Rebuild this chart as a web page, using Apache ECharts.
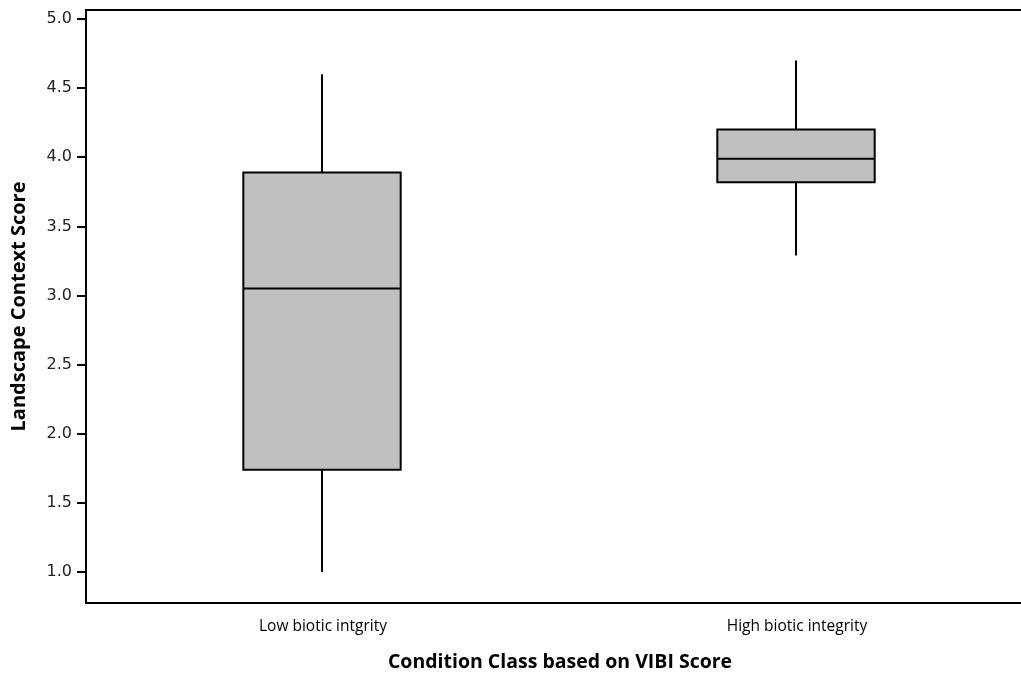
<!DOCTYPE html>
<html>
<head>
<meta charset="utf-8">
<script src="https://cdn.jsdelivr.net/npm/echarts@6/dist/echarts.min.js"></script>
<style>
  html, body { margin: 0; padding: 0; background: #fff; }
  #chart { width: 1021px; height: 675px; }
</style>
</head>
<body>
<div id="chart"></div>
<script>
// Condition classes on the horizontal axis
const categories = ['Low biotic intgrity', 'High biotic integrity'];
// Five-number summaries of landscape context score: [min, Q1, median, Q3, max]
const lowStats = [1.00, 1.74, 3.05, 3.89, 4.60];
const highStats = [3.29, 3.82, 3.99, 4.20, 4.70];
// Labelled y ticks
const yTicks = [1.0, 1.5, 2.0, 2.5, 3.0, 3.5, 4.0, 4.5, 5.0];

const boxData = [
  [0].concat(lowStats),
  [1].concat(highStats)
];

const chart = echarts.init(document.getElementById('chart'));

// Box without whisker caps: whisker stems, filled box and median line
function renderBox(params, api) {
  const idx = api.value(0);
  const lo = api.coord([idx, api.value(1)]);
  const q1 = api.coord([idx, api.value(2)]);
  const med = api.coord([idx, api.value(3)]);
  const q3 = api.coord([idx, api.value(4)]);
  const hi = api.coord([idx, api.value(5)]);
  const band = api.size([1, 0])[0];
  const half = band * 0.166;
  const x = lo[0] - 1;
  const stroke = { stroke: '#000', lineWidth: 2 };
  return {
    type: 'group',
    children: [
      { type: 'line', shape: { x1: x, y1: hi[1], x2: x, y2: q3[1] }, style: stroke },
      { type: 'line', shape: { x1: x, y1: q1[1], x2: x, y2: lo[1] }, style: stroke },
      { type: 'rect', shape: { x: x - half, y: q3[1], width: half * 2, height: q1[1] - q3[1] },
        style: { fill: '#c0c0c0', stroke: '#000', lineWidth: 2 } },
      { type: 'line', shape: { x1: x - half, y1: med[1], x2: x + half, y2: med[1] }, style: stroke }
    ]
  };
}

chart.setOption({
  backgroundColor: '#fff',
  animation: false,
  grid: {
    left: 86, top: 10, width: 948, height: 593,
    containLabel: false,
    outerBoundsMode: 'none',
    show: true,
    borderColor: '#000',
    borderWidth: 2,
    backgroundColor: 'transparent'
  },
  xAxis: {
    type: 'category',
    data: categories,
    boundaryGap: true,
    name: 'Condition Class based on VIBI Score',
    nameLocation: 'middle',
    nameGap: 49,
    nameTextStyle: { fontFamily: 'Open Sans', fontWeight: 'bold', fontSize: 19.5, color: '#000' },
    axisLine: { lineStyle: { color: '#000', width: 2 } },
    axisTick: { alignWithLabel: true, length: 7, lineStyle: { color: '#000', width: 2 } },
    axisLabel: { margin: 16, fontFamily: 'Open Sans', fontSize: 15.5, color: '#000' },
    splitLine: { show: false }
  },
  yAxis: {
    type: 'value',
    min: 0.776,
    max: 5.065,
    name: 'Landscape Context Score',
    nameLocation: 'middle',
    nameGap: 57,
    nameTextStyle: { fontFamily: 'Open Sans', fontWeight: 'bold', fontSize: 20, color: '#000' },
    axisLine: { show: true, lineStyle: { color: '#000', width: 2 } },
    axisTick: { show: true, length: 9, customValues: yTicks, lineStyle: { color: '#000', width: 2 } },
    axisLabel: {
      customValues: yTicks,
      margin: 14,
      fontFamily: 'DejaVu Sans',
      fontSize: 16,
      color: '#222',
      formatter: v => v.toFixed(1)
    },
    splitLine: { show: false }
  },
  series: [{
    type: 'custom',
    renderItem: renderBox,
    encode: { x: 0, y: [1, 2, 3, 4, 5] },
    data: boxData,
    clip: false
  }]
});
</script>
</body>
</html>
